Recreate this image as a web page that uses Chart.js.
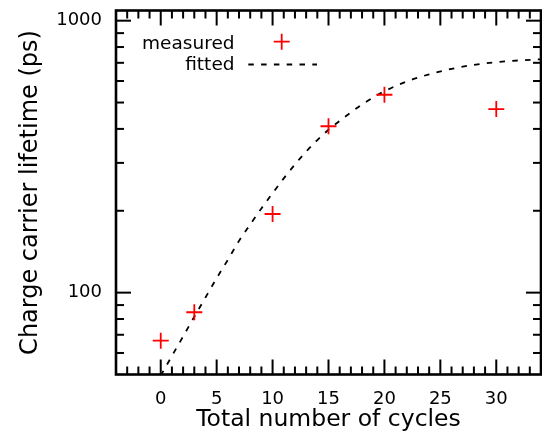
<!DOCTYPE html>
<html>
<head>
<meta charset="utf-8">
<script src="https://cdn.jsdelivr.net/npm/chart.js@4.4.1/dist/chart.umd.min.js"></script>
<style>
html,body{margin:0;padding:0;background:#fff;}
#wrap{width:542px;height:436px;position:relative;}
</style>
</head>
<body>
<div id="wrap"><canvas id="c" width="542" height="436"></canvas></div>
<script>
// ---- data ----
const cycles = [0, 3, 10, 15, 20, 30];
const lifetimes = [66.6, 84.7, 194.6, 409, 534, 473];

const fitCycles = [0, 1, 2, 3, 4, 5, 6, 7, 8, 9, 10, 11, 12, 13, 14, 15, 16, 17, 18, 19, 20, 22, 24, 26, 28, 30, 32, 34];
const fitLifetimes = [49.5, 58.5, 69, 81.5, 96, 113, 132, 155, 178, 204, 232, 263, 296, 330, 364, 397, 428, 460, 492, 522, 550, 598, 635, 665, 688, 704, 714, 721];

const xMajorTicks = [0, 5, 10, 15, 20, 25, 30];
const yMajorTicks = [100, 1000];
const yMinorTicks = [60, 70, 80, 90, 200, 300, 400, 500, 600, 700, 800, 900];

const seriesNames = ['measured', 'fitted'];
const xTitle = 'Total number of cycles';
const yTitle = 'Charge carrier lifetime (ps)';

// ---- styles ----
const FONT = '"DejaVu Sans", "Liberation Sans", Arial, sans-serif';
const RED = '#ff0000';
const DASH = [5.5, 7.3];

const zeroPad = s => { s.paddingTop = 0; s.paddingBottom = 0; s.paddingLeft = 0; s.paddingRight = 0; };

const frameTicks = {
  id: 'frameTicks',
  afterDraw(chart) {
    const {ctx, chartArea: a, scales: {x, y}} = chart;
    ctx.save();
    ctx.strokeStyle = '#000';
    ctx.lineCap = 'butt';
    ctx.lineWidth = 2;
    const seg = (x1, y1, x2, y2) => { ctx.beginPath(); ctx.moveTo(x1, y1); ctx.lineTo(x2, y2); ctx.stroke(); };
    // x ticks (minor every 1)
    for (let v = Math.ceil(x.min); v <= Math.floor(x.max); v++) {
      const px = x.getPixelForValue(v);
      const len = xMajorTicks.includes(v) ? 15 : 8;
      seg(px, a.bottom, px, a.bottom - len);
      seg(px, a.top, px, a.top + len);
    }
    // y ticks
    yMajorTicks.concat(yMinorTicks).forEach(v => {
      const py = y.getPixelForValue(v);
      const len = yMajorTicks.includes(v) ? 15 : 8;
      seg(a.left, py, a.left + len, py);
      seg(a.right, py, a.right - len, py);
    });
    ctx.lineWidth = 2.6;
    ctx.strokeRect(a.left, a.top, a.right - a.left, a.bottom - a.top);

    // legend
    ctx.fillStyle = '#000';
    ctx.font = '18.5px ' + FONT;
    ctx.textAlign = 'right';
    ctx.textBaseline = 'alphabetic';
    ctx.fillText(seriesNames[0], 234.5, 48.5);
    ctx.fillText(seriesNames[1], 234.5, 70);
    const cx = 281.7, cy = 41.7, r = 8;
    ctx.strokeStyle = RED;
    ctx.lineWidth = 1.8;
    ctx.beginPath(); ctx.moveTo(cx - r, cy); ctx.lineTo(cx + r, cy);
    ctx.moveTo(cx, cy - r); ctx.lineTo(cx, cy + r); ctx.stroke();
    ctx.strokeStyle = '#000';
    ctx.setLineDash(DASH);
    ctx.beginPath(); ctx.moveTo(248.3, 64.5); ctx.lineTo(317, 64.5); ctx.stroke();
    ctx.restore();
  }
};

new Chart(document.getElementById('c'), {
  type: 'scatter',
  data: {
    datasets: [
      {
        label: seriesNames[0],
        data: cycles.map((c, i) => ({x: c, y: lifetimes[i]})),
        pointStyle: 'cross',
        pointRadius: 8,
        pointHoverRadius: 8,
        pointBorderWidth: 1.8,
        pointBorderColor: RED,
        pointBackgroundColor: RED,
        showLine: false
      },
      {
        label: seriesNames[1],
        data: fitCycles.map((c, i) => ({x: c, y: fitLifetimes[i]})),
        showLine: true,
        pointRadius: 0,
        borderColor: '#000',
        borderWidth: 1.8,
        borderDash: DASH,
        cubicInterpolationMode: 'monotone',
        fill: false
      }
    ]
  },
  options: {
    responsive: false,
    animation: false,
    devicePixelRatio: 1,
    layout: {autoPadding: false, padding: {left: 0, top: 10.5, right: 1, bottom: 0}},
    plugins: {legend: {display: false}, tooltip: {enabled: false}},
    scales: {
      x: {
        type: 'linear',
        min: -4, max: 34,
        grid: {display: false, drawTicks: false},
        border: {display: false},
        afterBuildTicks: s => { s.ticks = xMajorTicks.map(v => ({value: v})); },
        afterFit: s => { s.height = 61.5; zeroPad(s); },
        ticks: {
          color: '#000', font: {family: FONT, size: 18}, padding: 14,
          maxRotation: 0, autoSkip: false,
          callback: v => String(v)
        },
        title: {display: true, text: xTitle, color: '#000', font: {family: FONT, size: 23.5}, padding: {top: 0, bottom: 2}}
      },
      y: {
        type: 'logarithmic',
        min: 50, max: 1090,
        grid: {display: false, drawTicks: false},
        border: {display: false},
        afterBuildTicks: s => { s.ticks = yMajorTicks.map(v => ({value: v})); },
        afterFit: s => { s.width = 116; zeroPad(s); },
        ticks: {
          color: '#000', font: {family: FONT, size: 18}, padding: 14,
          autoSkip: false,
          callback: v => String(v)
        },
        title: {display: true, text: yTitle, color: '#000', font: {family: FONT, size: 24}, padding: {top: 16, bottom: 0}}
      }
    }
  },
  plugins: [frameTicks]
});
</script>
</body>
</html>
